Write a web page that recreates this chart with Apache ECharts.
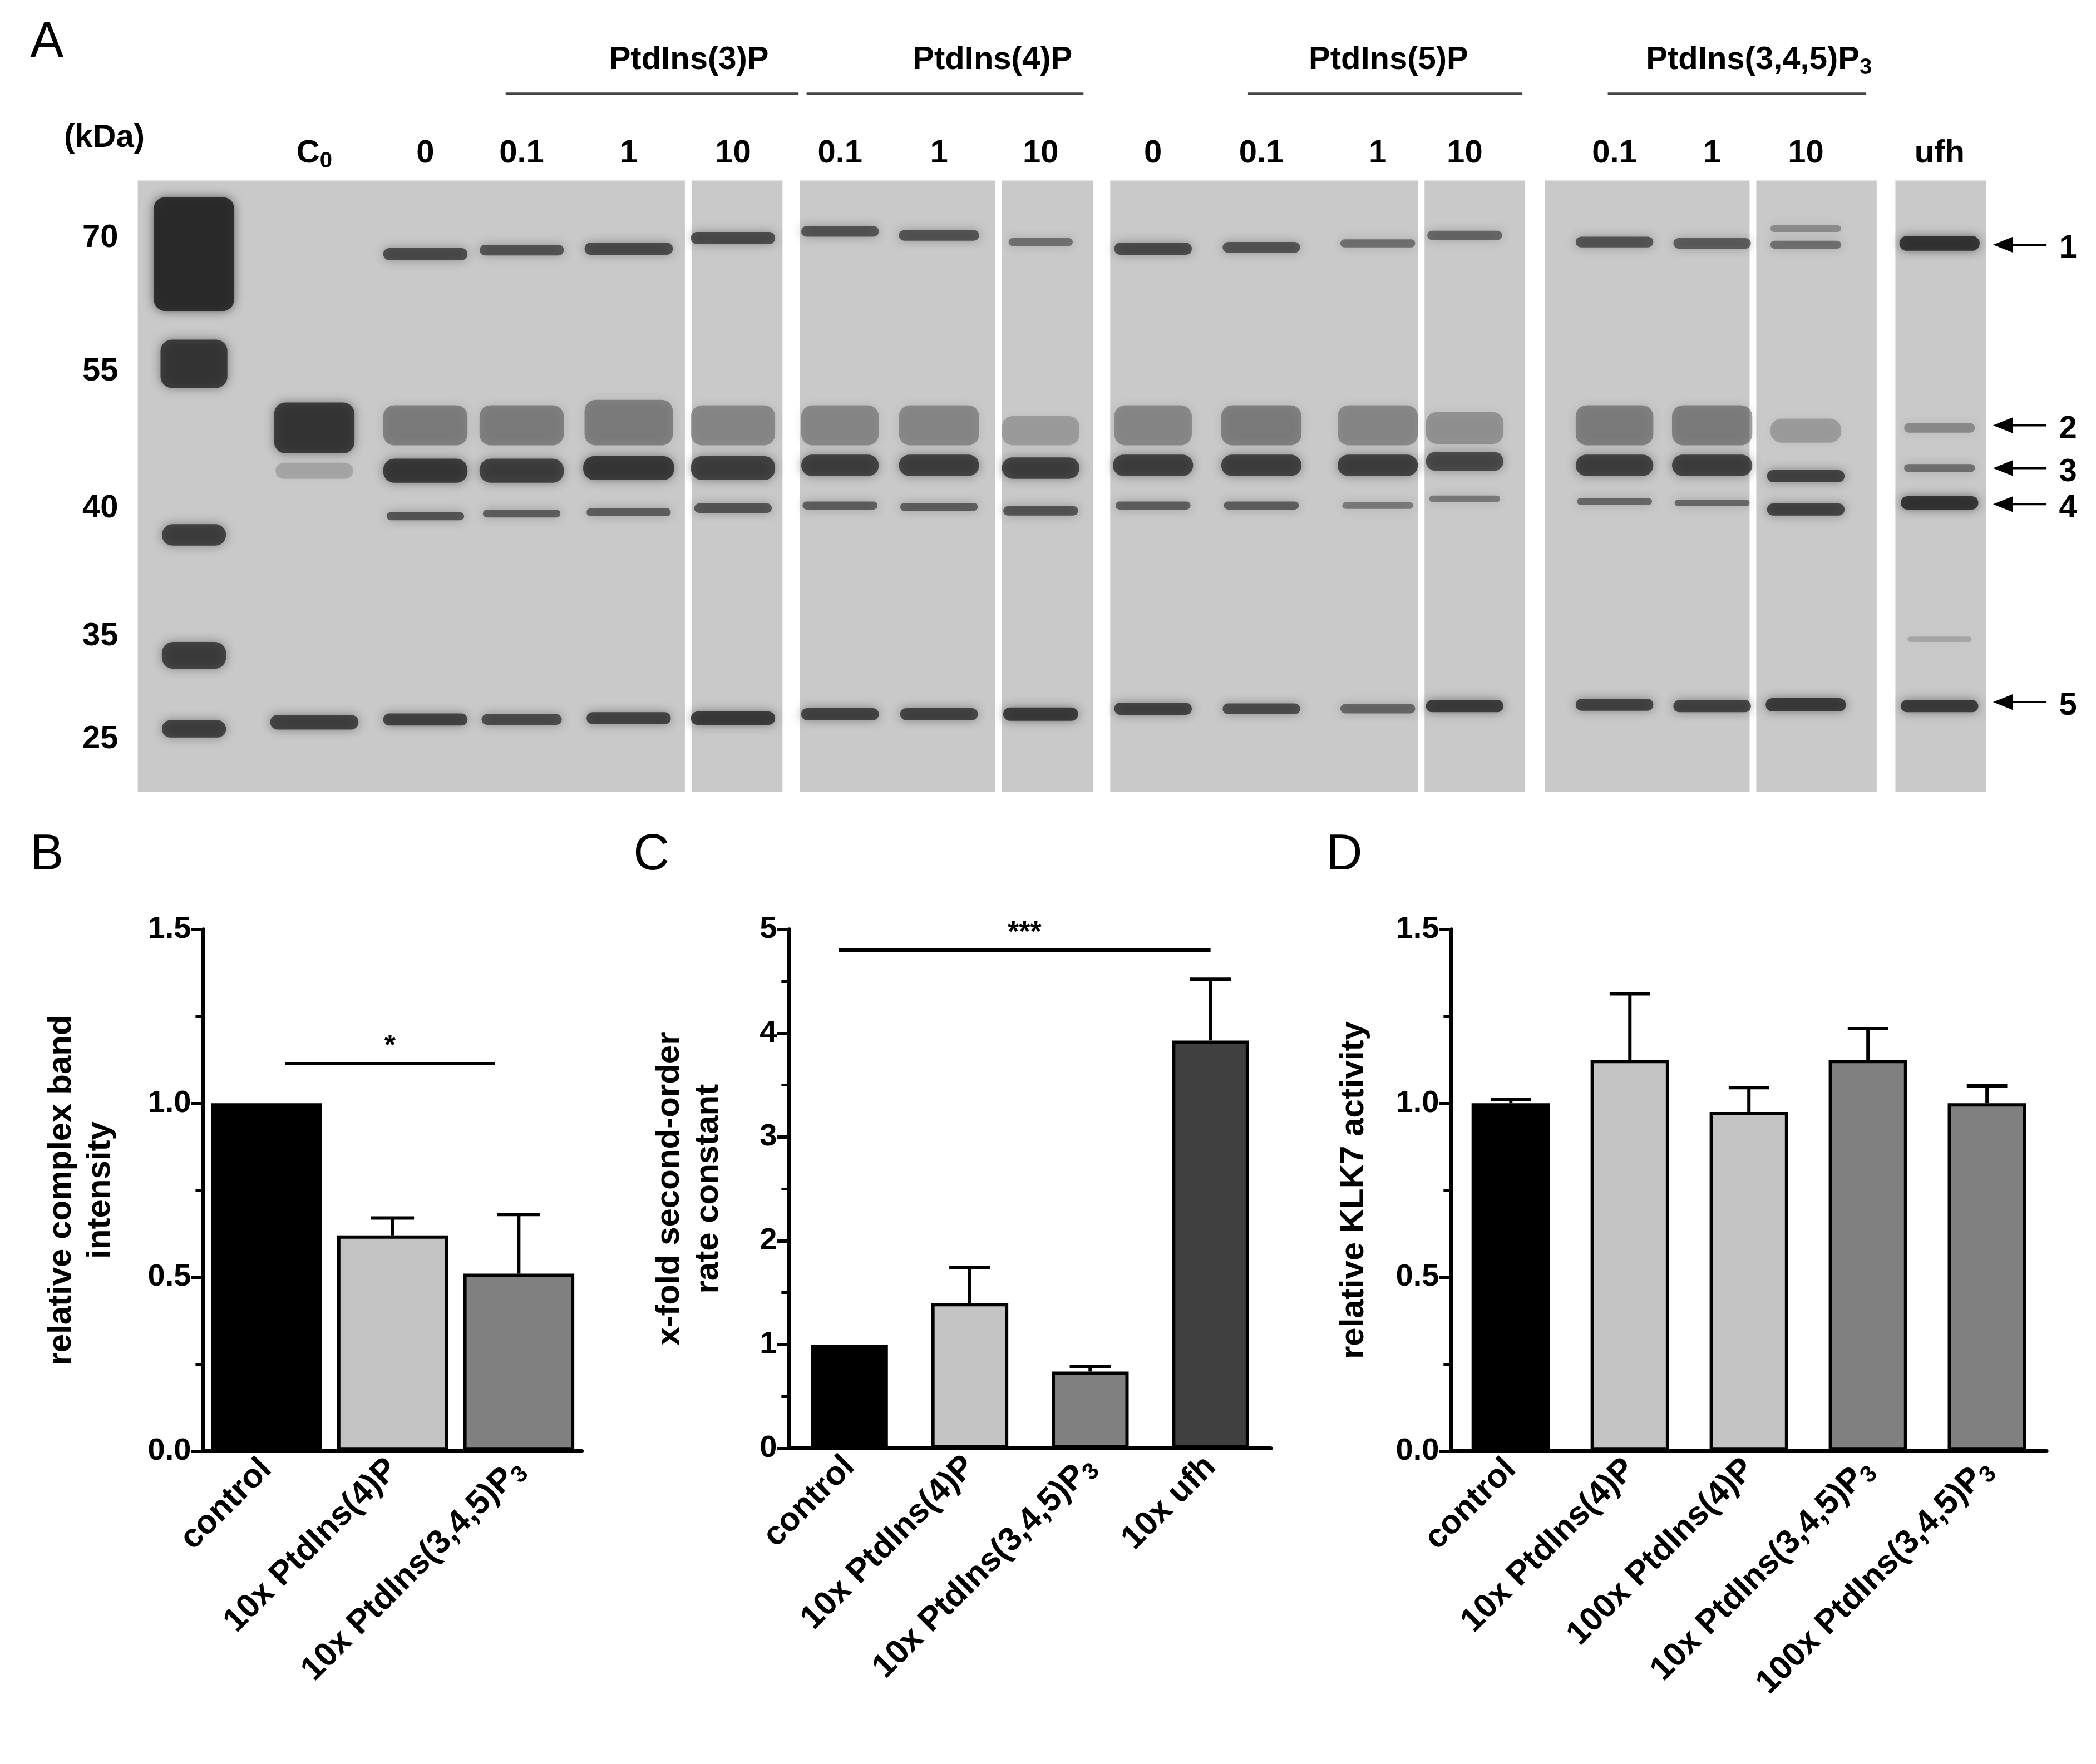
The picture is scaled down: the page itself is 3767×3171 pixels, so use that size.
<!DOCTYPE html><html><head><meta charset="utf-8"><script src="https://cdn.jsdelivr.net/npm/echarts@6/dist/echarts.min.js"></script>
<style>html,body{margin:0;background:#fff}#c{width:3767px;height:3171px}</style></head><body><div id="c"></div><script>
const K=2.404, s=v=>v*K;
// Panel B
const catB=['control','10x PtdIns(4)P','10x PtdIns(3,4,5)P3'];
const valB=[1.0,0.62,0.51], errB=[0,0.67,0.68], colB=['#000','#c3c3c3','#808080'];
// Panel C
const catC=['control','10x PtdIns(4)P','10x PtdIns(3,4,5)P3','10x ufh'];
const valC=[1.0,1.4,0.74,3.93], errC=[0,1.74,0.79,4.52], colC=['#000','#c3c3c3','#808080','#404040'];
// Panel D
const catD=['control','10x PtdIns(4)P','100x PtdIns(4)P','10x PtdIns(3,4,5)P3','100x PtdIns(3,4,5)P3'];
const valD=[1.0,1.125,0.975,1.125,1.0], errD=[1.01,1.315,1.045,1.215,1.05], colD=['#000','#c3c3c3','#c3c3c3','#808080','#808080'];
// Gel: panel x ranges, lane labels, bands [x,y,w,h,alpha]
const gelPanels=[[103,512],[517,585],[598,744],[749,817],[830,1060],[1065,1140],[1155,1308],[1313,1403],[1417,1485]];
const laneX=[235,318,390,470,548,628,702,778,862,943,1030,1095,1207,1280,1350,1450];
const laneLab=['C0','0','0.1','1','10','0.1','1','10','0','0.1','1','10','0.1','1','10','ufh'];
const kdaLab=['70','55','40','35','25'], kdaY=[178,278,380,476,553];
const bands=[
[145,190,60,85,0.9],[145,272,50,36,0.8],[145,400,48,16,0.75],[145,490,48,20,0.75],[145,545,48,13,0.75],
[235,320,60,38,0.8],[235,352,58,12,0.2],[235,540,66,11,0.75],
[318,190,63,9,0.7],[390,187,63,8,0.65],[470,186,66,9,0.7],[548,178,63,9,0.7],
[628,173,58,8,0.65],[702,176,60,8,0.65],[778,181,48,6,0.5],
[862,186,58,9,0.7],[943,185,58,8,0.65],[1030,182,56,6,0.5],[1095,176,56,7,0.55],
[1207,181,58,8,0.65],[1280,182,58,8,0.6],[1350,171,53,5,0.35],[1350,183,53,6,0.5],[1450,182,60,11,0.85],
[318,318,63,30,0.4],[390,318,63,30,0.4],[470,316,66,34,0.4],[548,318,63,30,0.35],[628,318,58,30,0.35],[702,318,60,30,0.35],[778,322,58,22,0.25],
[862,318,58,30,0.35],[943,318,60,30,0.4],[1030,318,60,30,0.35],[1095,320,58,24,0.3],[1207,318,58,30,0.4],[1280,318,60,30,0.4],[1350,322,53,18,0.25],[1450,320,53,7,0.35],
[318,352,63,18,0.8],[390,352,63,18,0.75],[470,350,68,18,0.8],[548,350,63,18,0.75],[628,348,58,16,0.75],[702,348,60,16,0.75],[778,350,58,16,0.75],
[862,348,60,16,0.75],[943,348,60,16,0.75],[1030,348,60,16,0.75],[1095,345,58,14,0.7],[1207,348,58,16,0.75],[1280,348,60,16,0.75],[1350,356,58,9,0.75],[1450,350,53,6,0.5],
[318,386,58,6,0.65],[390,384,58,6,0.6],[470,383,63,6,0.6],[548,380,58,7,0.65],[628,378,56,6,0.6],[702,379,58,6,0.6],[778,382,56,7,0.65],
[862,378,56,6,0.6],[943,378,56,6,0.6],[1030,378,53,5,0.45],[1095,373,53,5,0.45],[1207,375,56,5,0.55],[1280,376,56,5,0.55],[1350,381,58,9,0.75],[1450,376,58,10,0.85],
[318,538,63,9,0.75],[390,538,60,8,0.7],[470,537,63,9,0.75],[548,537,63,10,0.8],[628,534,58,9,0.75],[702,534,58,9,0.75],[778,534,56,10,0.8],
[862,530,58,9,0.75],[943,530,58,8,0.7],[1030,530,56,7,0.55],[1095,528,58,9,0.8],[1207,527,58,9,0.75],[1280,528,58,9,0.75],[1350,527,60,10,0.8],[1450,528,58,9,0.8],[1450,478,48,4,0.2]];
const groups=[['PtdIns(3)P',378,597,515],['PtdIns(4)P',603,810,742],['PtdIns(5)P',933,1138,1038],['PtdIns(3,4,5)P{sub|3}',1202,1395,1315]];
const arrows=[['1',183],['2',318],['3',350],['4',377],['5',525]];

const font='Arial, Liberation Sans, sans-serif';
const rich={sub:{fontSize:42,fontWeight:'bold',fontFamily:font,verticalAlign:'bottom',padding:[30,0,0,0]}};
const fmt=v=>v.replace(/P3$/,'P{sub|3}');
function barSet(idx,cats,vals,errs,cols,bw,sig){
  return [
   {type:'bar',xAxisIndex:idx,yAxisIndex:idx,barWidth:bw,data:vals.map((v,i)=>({value:v,itemStyle:{color:cols[i],borderColor:'#000',borderWidth:6}})),
    markLine:sig?{symbol:'none',silent:true,lineStyle:{color:'#000',width:6,type:'solid'},
      label:{show:true,position:'middle',formatter:sig[3],fontSize:52,fontWeight:'bold',color:'#000',fontFamily:font,distance:4},
      data:[[{x:s(sig[0]),coord:[0,sig[2]]},{x:s(sig[1]),coord:[0,sig[2]]}]]}:undefined},
   {type:'custom',xAxisIndex:idx,yAxisIndex:idx,z:1,data:vals.map((v,i)=>[i,v,errs[i]]),
    renderItem:(p,api)=>{const e=api.value(2); if(!e) return null;
      const a=api.coord([api.value(0),api.value(1)]), b=api.coord([api.value(0),e]);const w=api.size([1,0])[0]*0.17;
      return {type:'group',children:[{type:'line',shape:{x1:a[0],y1:a[1],x2:b[0],y2:b[1]},style:{stroke:'#000',lineWidth:6}},
        {type:'line',shape:{x1:b[0]-w,y1:b[1],x2:b[0]+w,y2:b[1]},style:{stroke:'#000',lineWidth:6}}]};}}
  ];
}
const axisStyle={lineStyle:{color:'#000',width:7}};
function xA(idx,cats){return {type:'category',gridIndex:idx,data:cats,axisLine:axisStyle,axisTick:{show:false},
  axisLabel:{rotate:45,interval:0,fontSize:60,fontWeight:'bold',color:'#000',fontFamily:font,margin:24,formatter:fmt,rich}};}
function yA(idx,max,int,name,gap){return {type:'value',gridIndex:idx,min:0,max,interval:int,name,nameLocation:'middle',nameGap:gap,
  nameTextStyle:{fontSize:60,fontWeight:'bold',color:'#000',fontFamily:font,lineHeight:70},
  axisLine:{show:true,...axisStyle},axisTick:{show:true,length:22,lineStyle:{width:6,color:'#000'}},
  minorTick:{show:true,splitNumber:2,length:14,lineStyle:{width:5,color:'#000'}},splitLine:{show:false},
  axisLabel:{fontSize:56,fontWeight:'bold',color:'#000',fontFamily:font,margin:22,formatter:v=>int<1?v.toFixed(1):v}};}

const G=[];
gelPanels.forEach(p=>G.push({type:'rect',shape:{x:s(p[0]),y:s(135),width:s(p[1]-p[0]),height:s(457)},style:{fill:'#c9c9c9'},z:-1}));
const txt=(t,x,y,o={})=>({type:'text',x:s(x),y:s(y),style:Object.assign({text:t,fontSize:58,fontWeight:'bold',fill:'#000',fontFamily:font,align:'center',verticalAlign:'middle',rich:{sub:{fontSize:40,fontWeight:'bold',padding:[28,0,0,0],fontFamily:font}}},o)});
laneLab.forEach((t,i)=>G.push(txt(t==='C0'?'C{sub|0}':t,laneX[i],115)));
kdaLab.forEach((t,i)=>G.push(txt(t,75,kdaY[i])));
G.push(txt('(kDa)',78,103));
groups.forEach(g=>{G.push(txt(g[0],g[3],45));G.push({type:'line',shape:{x1:s(g[1]),y1:s(70),x2:s(g[2]),y2:s(70)},style:{stroke:'#444',lineWidth:4}});});
arrows.forEach(a=>{G.push({type:'line',shape:{x1:s(1492),y1:s(a[1]),x2:s(1530),y2:s(a[1])},style:{stroke:'#000',lineWidth:4}});
  G.push({type:'polygon',shape:{points:[[s(1490),s(a[1])],[s(1505),s(a[1]-6)],[s(1505),s(a[1]+6)]]},style:{fill:'#000'}});
  G.push(txt(a[0],1546,a[1]+3));});
[['A',35,32],['B',35,640],['C',487,640],['D',1005,640]].forEach(l=>G.push(txt(l[0],l[1],l[2],{fontSize:90,fontWeight:'normal'})));

const opt={animation:false,backgroundColor:'#fff',graphic:G,
 grid:[{left:s(152),top:s(695),width:s(283),height:s(390)},{left:s(590),top:s(695),width:s(360),height:s(388)},{left:s(1085),top:s(695),width:s(445),height:s(390)},
       {left:s(103),top:s(135),width:s(1382),height:s(457)}],
 xAxis:[xA(0,catB),xA(1,catC),xA(2,catD),{type:'value',gridIndex:3,min:103,max:1485,show:false}],
 yAxis:[yA(0,1.5,0.5,'relative complex band\nintensity',150),yA(1,5,1,'x-fold second-order\nrate constant',110),yA(2,1.5,0.5,'relative KLK7 activity',140),
        {type:'value',gridIndex:3,min:135,max:592,inverse:true,show:false}],
 series:[...barSet(0,catB,valB,errB,colB,'88%',[213,370,1.115,'*']),
   ...barSet(1,catC,valC,errC,colC,'64%',[627,905,4.8,'***']),
   ...barSet(2,catD,valD,errD,colD,'66%',null),
   {type:'custom',xAxisIndex:3,yAxisIndex:3,data:bands,renderItem:(p,api)=>{
     const c=api.coord([api.value(0),api.value(1)]);const w=s(api.value(2)),h=s(api.value(3));
     return {type:'rect',shape:{x:c[0]-w/2,y:c[1]-h/2,width:w,height:h,r:Math.min(h/2,20)},
       style:{fill:'rgba(35,35,35,'+api.value(4)+')',shadowBlur:18,shadowColor:'rgba(35,35,35,'+api.value(4)*0.8+')'}};}}]
};
echarts.init(document.getElementById('c')).setOption(opt);
</script></body></html>
